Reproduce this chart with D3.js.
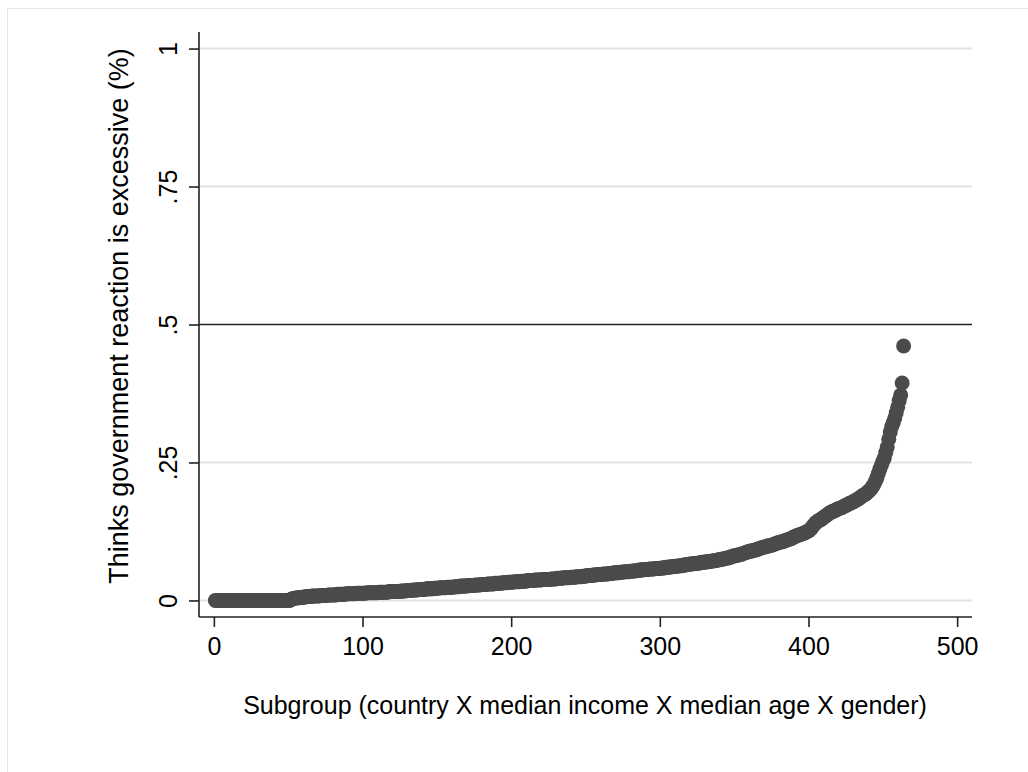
<!DOCTYPE html>
<html>
<head>
<meta charset="utf-8">
<script src="https://cdn.jsdelivr.net/npm/d3@7"></script>
<style>
  html, body { margin: 0; padding: 0; background: #ffffff; }
  svg { display: block; }
  text { font-family: "Liberation Sans", Arial, Helvetica, sans-serif; fill: #000; }
</style>
</head>
<body>
<svg id="chart" width="1028" height="772"></svg>
<script>
// Share of respondents who think the government reaction is excessive,
// one value per subgroup, sorted ascending (subgroup rank = position + 1).
const excessiveShare = [
  0,0,0,0,0,0,0,0,0,0, 0,0,0,0,0,0,0,0,0,0,
  0,0,0,0,0,0,0,0,0,0, 0,0,0,0,0,0,0,0,0,0,
  0,0,0,0,0,0,0,0,0,0, 0,
  0.002,0.003,0.004,0.004,0.005,0.005,0.005,0.006,0.006,
  0.006,0.007,0.007,0.007,0.007,0.008,0.008,0.008,0.008,0.008,
  0.008,0.009,0.009,0.009,0.009,0.009,0.010,0.010,0.010,0.010,
  0.010,0.010,0.011,0.011,0.011,0.011,0.011,0.011,0.012,0.012,
  0.012,0.012,0.012,0.012,0.012,0.013,0.013,0.013,0.013,0.013,
  0.013,0.013,0.014,0.014,0.014,0.014,0.014,0.014,0.014,0.014,
  0.015,0.015,0.015,0.015,0.015,0.015,0.015,0.016,0.016,0.016,
  0.016,0.016,0.016,0.016,0.016,0.017,0.017,0.017,0.017,0.018,
  0.018,0.018,0.018,0.019,0.019,0.019,0.019,0.020,0.020,0.020,
  0.020,0.020,0.021,0.021,0.021,0.021,0.021,0.022,0.022,0.022,
  0.022,0.023,0.023,0.023,0.023,0.023,0.024,0.024,0.024,0.024,
  0.024,0.025,0.025,0.025,0.025,0.026,0.026,0.026,0.026,0.026,
  0.027,0.027,0.027,0.027,0.027,0.028,0.028,0.028,0.028,0.029,
  0.029,0.029,0.029,0.030,0.030,0.030,0.030,0.030,0.031,0.031,
  0.031,0.031,0.031,0.032,0.032,0.032,0.032,0.033,0.033,0.033,
  0.033,0.034,0.034,0.034,0.034,0.034,0.035,0.035,0.035,0.035,
  0.036,0.036,0.036,0.036,0.036,0.037,0.037,0.037,0.037,0.037,
  0.038,0.038,0.038,0.038,0.038,0.038,0.039,0.039,0.039,0.039,
  0.040,0.040,0.040,0.040,0.041,0.041,0.041,0.041,0.041,0.042,
  0.042,0.042,0.042,0.043,0.043,0.043,0.043,0.044,0.044,0.044,
  0.045,0.045,0.045,0.045,0.046,0.046,0.046,0.047,0.047,0.047,
  0.047,0.048,0.048,0.048,0.048,0.049,0.049,0.049,0.050,0.050,
  0.050,0.050,0.051,0.051,0.051,0.052,0.052,0.052,0.052,0.053,
  0.053,0.053,0.054,0.054,0.054,0.055,0.055,0.055,0.056,0.056,
  0.056,0.056,0.057,0.057,0.057,0.057,0.058,0.058,0.058,0.058,
  0.059,0.059,0.059,0.060,0.060,0.060,0.061,0.061,0.061,0.062,
  0.062,0.062,0.063,0.063,0.063,0.064,0.064,0.065,0.065,0.066,
  0.066,0.066,0.067,0.067,0.067,0.068,0.068,0.069,0.069,0.069,
  0.070,0.070,0.070,0.071,0.071,0.072,0.072,0.073,0.073,0.074,
  0.074,0.075,0.075,0.076,0.077,0.077,0.078,0.079,0.080,0.081,
  0.081,0.082,0.083,0.083,0.084,0.085,0.086,0.087,0.088,0.089,
  0.089,0.090,0.091,0.091,0.092,0.093,0.094,0.095,0.096,0.097,
  0.097,0.098,0.099,0.099,0.100,0.101,0.102,0.103,0.104,0.105,
  0.106,0.106,0.107,0.108,0.109,0.110,0.111,0.112,0.113,0.115,
  0.116,0.117,0.118,0.119,0.120,0.121,0.122,0.123,0.125,0.126,
  0.128,0.131,0.135,0.138,0.141,0.143,0.145,0.146,0.148,0.150,
  0.152,0.154,0.156,0.158,0.160,0.161,0.162,0.163,0.165,0.166,
  0.167,0.168,0.169,0.171,0.172,0.173,0.175,0.176,0.177,0.179,
  0.180,0.182,0.183,0.185,0.187,0.189,0.191,0.192,0.194,0.197,
  0.199,0.202,0.206,0.210,0.216,0.222,0.230,0.238,0.245,0.252,
  0.258,0.268,0.278,0.292,0.305,0.315,0.322,0.330,0.340,0.350,
  0.362,0.372,0.394,0.461
];

// Axis ticks and labels
const xTicks = [0, 100, 200, 300, 400, 500];
const yTicks = [0, 0.25, 0.5, 0.75, 1];
const yTickLabels = ["0", ".25", ".5", ".75", "1"];
const referenceLine = [0.5];

const xTitle = "Subgroup (country X median income X median age X gender)";
const yTitle = "Thinks government reaction is excessive (%)";

const svg = d3.select("#chart");

// outer frame of the graph region
svg.append("rect")
  .attr("x", 7.5).attr("y", 8.5)
  .attr("width", 1040).attr("height", 800)
  .attr("fill", "none")
  .attr("stroke", "#e6e6e6")
  .attr("stroke-width", 1);

const plot = { left: 199, right: 972, top: 32, bottom: 617 };

const x = d3.scaleLinear().domain([-10, 510]).range([plot.left, plot.right]);
const y = d3.scaleLinear().domain([-0.03, 1.03]).range([plot.bottom, plot.top]);

// horizontal grid lines
svg.append("g")
  .selectAll("line")
  .data(yTicks.filter(t => !referenceLine.includes(t)))
  .join("line")
  .attr("x1", plot.left + 1).attr("x2", plot.right)
  .attr("y1", d => y(d)).attr("y2", d => y(d))
  .attr("stroke", "#e3e3e3")
  .attr("stroke-width", 2);

// reference line at one half
svg.append("g")
  .selectAll("line")
  .data(referenceLine)
  .join("line")
  .attr("x1", plot.left).attr("x2", plot.right)
  .attr("y1", d => y(d)).attr("y2", d => y(d))
  .attr("stroke", "#222")
  .attr("stroke-width", 1.6);

// markers
svg.append("g")
  .selectAll("circle")
  .data(excessiveShare)
  .join("circle")
  .attr("cx", (d, i) => x(i + 1))
  .attr("cy", d => y(d))
  .attr("r", 7.5)
  .attr("fill", "#4b4b4b");

// x axis
const xAxis = d3.axisBottom(x)
  .tickValues(xTicks)
  .tickSize(10)
  .tickSizeOuter(0);

const gx = svg.append("g")
  .attr("transform", `translate(0,${plot.bottom})`)
  .call(xAxis);
gx.select(".domain").attr("stroke", "#222").attr("stroke-width", 1.6)
  .attr("d", `M${plot.left},0H${plot.right}`);
gx.selectAll(".tick line").attr("stroke", "#222").attr("stroke-width", 1.6);
gx.selectAll(".tick text")
  .attr("font-size", 25)
  .attr("font-family", "Liberation Sans, Arial, sans-serif")
  .attr("fill", "#000")
  .attr("y", 38).attr("dy", null);

// y axis
const yAxis = d3.axisLeft(y)
  .tickValues(yTicks)
  .tickFormat((d, i) => yTickLabels[i])
  .tickSize(10)
  .tickSizeOuter(0);

const gy = svg.append("g")
  .attr("transform", `translate(${plot.left},0)`)
  .call(yAxis);
gy.select(".domain").attr("stroke", "#222").attr("stroke-width", 1.6)
  .attr("d", `M0,${plot.top}V${plot.bottom}`);
gy.selectAll(".tick line").attr("stroke", "#222").attr("stroke-width", 1.6);
gy.selectAll(".tick text")
  .attr("font-size", 25)
  .attr("font-family", "Liberation Sans, Arial, sans-serif")
  .attr("fill", "#000")
  .attr("x", null).attr("dy", null)
  .attr("text-anchor", "middle")
  .attr("transform", "translate(-22,0) rotate(-90)");

// axis titles
svg.append("text")
  .attr("x", 585)
  .attr("y", 714)
  .attr("text-anchor", "middle")
  .attr("font-size", 25)
  .text(xTitle);

svg.append("text")
  .attr("transform", `translate(128,316) rotate(-90)`)
  .attr("text-anchor", "middle")
  .attr("font-size", 27)
  .text(yTitle);
</script>
</body>
</html>
